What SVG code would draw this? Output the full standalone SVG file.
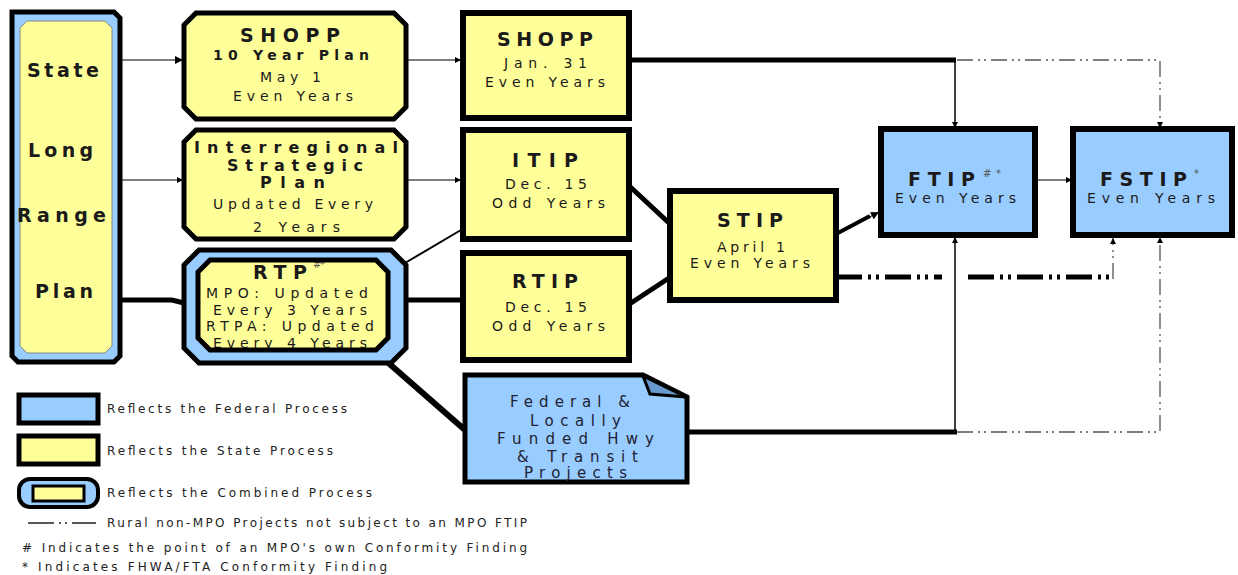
<svg xmlns="http://www.w3.org/2000/svg" width="1238" height="575" viewBox="0 0 1238 575">
<defs>
<style>
.y{fill:#FFFF99}
.b{fill:#99CCFF}
.k{stroke:#000;stroke-width:5;stroke-linejoin:miter}
.kk{stroke:#000;stroke-width:6}
text{font-family:"DejaVu Sans","Verdana",sans-serif;fill:#1a1a1a}
.t{font-size:19px;font-weight:bold}
.ti{font-size:16px;font-weight:bold}
.tb{font-size:14px;font-weight:bold}
.s{font-size:14px}
.d{font-size:15px;fill:#222233}
.sup{font-size:10px;fill:#555}
.lg{font-size:12px;fill:#222}
.thin{fill:none;stroke:#555;stroke-width:1.5}
.thinb{fill:none;stroke:#000;stroke-width:1.5}
.thick{fill:none;stroke:#000;stroke-width:5}
.dash{fill:none;stroke:#555;stroke-width:1.3;stroke-dasharray:16 5 2 4 2 5}
.dashk{fill:none;stroke:#000;stroke-width:5;stroke-dasharray:26 6 3 5 3 6}
</style>
<marker id="ar" viewBox="0 0 10 10" refX="10" refY="5" markerWidth="9" markerHeight="8" markerUnits="userSpaceOnUse" orient="auto">
<path d="M0,0 L10,5 L0,10 z" fill="#000"/>
</marker>
<marker id="ars" viewBox="0 0 10 10" refX="10" refY="5" markerWidth="7" markerHeight="6" markerUnits="userSpaceOnUse" orient="auto">
<path d="M0,0 L10,5 L0,10 z" fill="#000"/>
</marker>
</defs>

<g id="connectors">
<path class="thin" d="M120,60 H183" marker-end="url(#ar)"/>
<path class="thin" d="M120,180 H183" marker-end="url(#ars)"/>
<path class="thick" d="M120,300 H172 L184,303"/>
<path class="thin" d="M407,60 H461" marker-end="url(#ars)"/>
<path class="thin" d="M407,180 H461" marker-end="url(#ars)"/>
<path class="thick" d="M405,300 H462"/>
<path fill="none" stroke="#000" stroke-width="2" d="M405,263 L461,230"/>
<path fill="none" stroke="#000" stroke-width="6" d="M385,360 L465,430"/>
<path class="thick" d="M625,182 L669,223"/>
<path class="thick" d="M628,305 L669,278"/>
<path fill="none" stroke="#000" stroke-width="4" d="M836,234 L870,216"/>
<path fill="none" stroke="#000" stroke-width="1" d="M860,222 L879,212" marker-end="url(#ar)"/>
<path class="thick" d="M620,60 H956"/>
<path class="thinb" d="M955,60 V128" marker-end="url(#ars)"/>
<path class="dash" d="M957,60 H1160 V128" marker-end="url(#ars)"/>
<path class="thin" d="M1036,180 H1072" marker-end="url(#ars)"/>
<path class="dashk" d="M836,277 H942"/>
<path class="dashk" d="M968,277 H1113"/>
<path class="dash" d="M1113,279 V238" marker-end="url(#ars)"/>
<path class="thick" d="M688,432 H957"/>
<path class="thinb" d="M955,432 V237" marker-end="url(#ars)"/>
<path class="dash" d="M957,432 H1160 V237" marker-end="url(#ars)"/>
</g>

<g id="state-long-range-plan">
<polygon class="b k" points="12,12 114,12 120,18 120,356 114,362 18,362 12,356"/>
<polygon class="y" stroke="#888" stroke-width="1" points="27,21 105,21 112,28 112,346 105,353 27,353 20,346 20,28"/>
<text class="t" x="27" y="77" textLength="72" lengthAdjust="spacing">State</text>
<text class="t" x="28" y="157" textLength="65" lengthAdjust="spacing">Long</text>
<text class="t" x="17" y="222" textLength="89" lengthAdjust="spacing">Range</text>
<text class="t" x="35" y="298" textLength="58" lengthAdjust="spacing">Plan</text>
</g>

<g id="shopp-10-year">
<polygon class="y k" points="196,13 394,13 406,25 406,107 394,119 196,119 184,107 184,25"/>
<text class="t" x="240" y="42" textLength="100" lengthAdjust="spacing">SHOPP</text>
<text class="tb" x="213" y="60" textLength="156" lengthAdjust="spacing">10 Year Plan</text>
<text class="s" x="260" y="82" textLength="61" lengthAdjust="spacing">May 1</text>
<text class="s" x="233" y="101" textLength="120" lengthAdjust="spacing">Even Years</text>
</g>

<g id="interregional">
<polygon class="y k" points="196,130 394,130 406,142 406,227 394,239 196,239 184,227 184,142"/>
<text class="ti" x="194" y="153" textLength="204" lengthAdjust="spacing">Interregional</text>
<text class="ti" x="227" y="171" textLength="136" lengthAdjust="spacing">Strategic</text>
<text class="ti" x="260" y="188" textLength="65" lengthAdjust="spacing">Plan</text>
<text class="s" x="213" y="209" textLength="160" lengthAdjust="spacing">Updated Every</text>
<text class="s" x="253" y="232" textLength="87" lengthAdjust="spacing">2 Years</text>
</g>

<g id="rtp">
<polygon class="b k" points="199,250 391,250 406,265 406,348 391,363 199,363 184,348 184,265"/>
<polygon class="y" points="210,260 376,260 388,272 388,338 376,350 210,350 198,338 198,272"/>
<text class="t" x="253" y="279" textLength="54" lengthAdjust="spacing">RTP</text>
<text class="sup" x="313" y="268" textLength="12" lengthAdjust="spacing">#*</text>
<text class="s" x="206" y="298" textLength="162" lengthAdjust="spacing">MPO: Updated</text>
<text class="s" x="213" y="315" textLength="154" lengthAdjust="spacing">Every 3 Years</text>
<text class="s" x="206" y="331" textLength="168" lengthAdjust="spacing">RTPA: Updated</text>
<text class="s" x="213" y="348" textLength="154" lengthAdjust="spacing">Every 4 Years</text>
<polygon fill="none" class="k" points="210,260 376,260 388,272 388,338 376,350 210,350 198,338 198,272"/>
</g>

<g id="shopp">
<rect class="y kk" x="463" y="13" width="166" height="105"/>
<text class="t" x="497" y="46" textLength="96" lengthAdjust="spacing">SHOPP</text>
<text class="s" x="504" y="68" textLength="83" lengthAdjust="spacing">Jan. 31</text>
<text class="s" x="485" y="87" textLength="120" lengthAdjust="spacing">Even Years</text>
</g>

<g id="itip">
<rect class="y kk" x="463" y="130" width="166" height="109"/>
<text class="t" x="512" y="167" textLength="66" lengthAdjust="spacing">ITIP</text>
<text class="s" x="505" y="189" textLength="82" lengthAdjust="spacing">Dec. 15</text>
<text class="s" x="492" y="208" textLength="113" lengthAdjust="spacing">Odd Years</text>
</g>

<g id="rtip">
<rect class="y kk" x="463" y="253" width="166" height="107"/>
<text class="t" x="512" y="288" textLength="66" lengthAdjust="spacing">RTIP</text>
<text class="s" x="505" y="312" textLength="82" lengthAdjust="spacing">Dec. 15</text>
<text class="s" x="492" y="331" textLength="113" lengthAdjust="spacing">Odd Years</text>
</g>

<g id="stip">
<rect class="y kk" x="670" y="191" width="166" height="109"/>
<text class="t" x="717" y="227" textLength="66" lengthAdjust="spacing">STIP</text>
<text class="s" x="717" y="252" textLength="68" lengthAdjust="spacing">April 1</text>
<text class="s" x="690" y="268" textLength="120" lengthAdjust="spacing">Even Years</text>
</g>

<g id="projects">
<polygon class="b k" points="465,375 643,375 687,397 687,482 465,482"/>
<polygon fill="#6699CC" stroke="#000" stroke-width="3" points="643,376 650,394 686,397"/>
<text class="d" x="510" y="407" textLength="120" lengthAdjust="spacing">Federal &amp;</text>
<text class="d" x="530" y="426" textLength="91" lengthAdjust="spacing">Locally</text>
<text class="d" x="497" y="444" textLength="157" lengthAdjust="spacing">Funded Hwy</text>
<text class="d" x="517" y="462" textLength="121" lengthAdjust="spacing">&amp; Transit</text>
<text class="d" x="524" y="478" textLength="103" lengthAdjust="spacing">Projects</text>
</g>

<g id="ftip">
<rect class="b kk" x="881" y="129" width="154" height="106"/>
<text class="t" x="908" y="186" textLength="67" lengthAdjust="spacing">FTIP</text>
<text class="sup" x="983" y="177" textLength="18" lengthAdjust="spacing">#*</text>
<text class="s" x="895" y="203" textLength="121" lengthAdjust="spacing">Even Years</text>
</g>

<g id="fstip">
<rect class="b kk" x="1073" y="129" width="159" height="106"/>
<text class="t" x="1100" y="186" textLength="87" lengthAdjust="spacing">FSTIP</text>
<text class="sup" x="1194" y="177" font-size="11">*</text>
<text class="s" x="1087" y="203" textLength="128" lengthAdjust="spacing">Even Years</text>
</g>

<g id="legend">
<rect class="b k" x="19" y="395" width="79" height="28"/>
<text class="lg" x="107" y="413" textLength="240" lengthAdjust="spacing">Reflects the Federal Process</text>
<rect class="y k" x="19" y="436" width="79" height="28"/>
<text class="lg" x="107" y="455" textLength="226" lengthAdjust="spacing">Reflects the State Process</text>
<rect class="b" stroke="#000" stroke-width="4" x="19" y="479" width="79" height="28" rx="11"/>
<rect class="y" stroke="#000" stroke-width="3" x="33" y="486" width="51" height="15"/>
<text class="lg" x="107" y="497" textLength="265" lengthAdjust="spacing">Reflects the Combined Process</text>
<path fill="none" stroke="#222" stroke-width="1.3" stroke-dasharray="26 5 2 4 2 5" d="M28,523 H96"/>
<text class="lg" x="107" y="527" textLength="420" lengthAdjust="spacing">Rural non-MPO Projects not subject to an MPO FTIP</text>
<text class="lg" x="22" y="552" textLength="505" lengthAdjust="spacing"># Indicates the point of an MPO's own Conformity Finding</text>
<text class="lg" x="22" y="571" textLength="365" lengthAdjust="spacing">* Indicates FHWA/FTA Conformity Finding</text>
</g>
</svg>
